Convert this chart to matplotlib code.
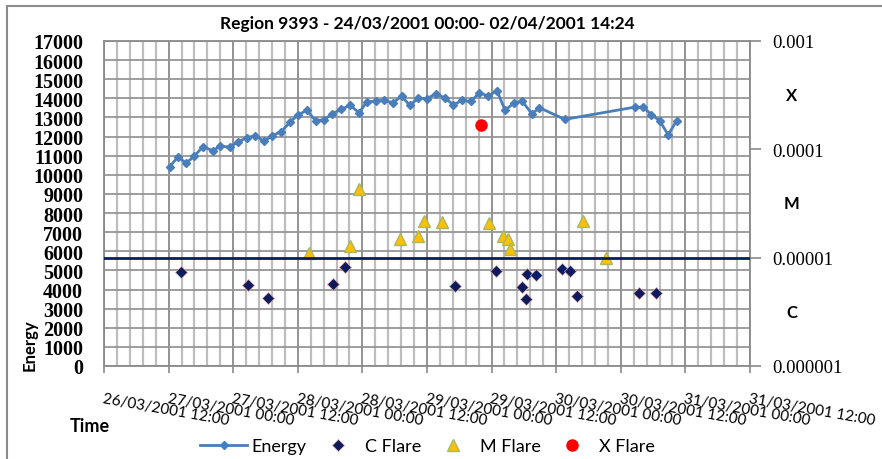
import numpy as np
import matplotlib
matplotlib.use("Agg")
import matplotlib.pyplot as plt
import matplotlib.ticker as mticker
import matplotlib.transforms as mtransforms

plt.rcParams['font.family'] = ['Lato', 'DejaVu Sans']

# hours after 26/03/2001 12:00
energy_hours = [12.2, 13.7, 15.3, 16.8, 18.4, 20.2, 21.6, 23.4, 24.9, 26.5,
                28.1, 29.7, 31.3, 32.9, 34.6, 36.0, 37.7, 39.3, 40.9, 42.4,
                44.0, 45.7, 47.4, 48.8, 50.5, 52.1, 53.7, 55.3, 56.8, 58.4,
                60.0, 61.6, 63.3, 64.9, 66.5, 68.2, 69.7, 71.4, 73.0, 74.5,
                76.2, 77.7, 79.5, 80.9, 85.6, 98.6, 100.2, 101.7, 103.2, 104.8,
                106.4]
energy = [10420, 10930, 10620, 10980, 11480, 11260, 11500, 11450, 11720, 11940,
          12050, 11760, 12050, 12260, 12760, 13130, 13370, 12840, 12880, 13190,
          13420, 13630, 13250, 13810, 13860, 13890, 13770, 14120, 13630, 14020,
          13980, 14240, 14030, 13660, 13890, 13840, 14290, 14120, 14410, 13370,
          13770, 13840, 13190, 13510, 12900, 13540, 13540, 13140, 12840, 12090,
          12840]

c_hours = [14.3, 26.8, 30.5, 42.5, 44.8, 65.2, 72.8, 77.6, 78.4, 78.5,
           80.3, 85.1, 86.6, 87.8, 99.3, 102.5]
c_energy = [4910, 4260, 3560, 4290, 5170, 4200, 4990, 4150, 3510, 4820,
            4780, 5080, 4960, 3680, 3820, 3820]

m_hours = [38.1, 45.7, 47.4, 55.0, 58.4, 59.4, 62.7, 71.6, 74.1, 75.0, 75.4, 89.0, 93.2]
m_energy = [5900, 6300, 9270, 6650, 6820, 7610, 7520, 7490, 6820, 6650, 6130, 7610, 5640]

x_hours = [70.0]
x_energy = [12620]

time_labels = ["26/03/2001 12:00", "27/03/2001 00:00", "27/03/2001 12:00",
               "28/03/2001 00:00", "28/03/2001 12:00", "29/03/2001 00:00",
               "29/03/2001 12:00", "30/03/2001 00:00", "30/03/2001 12:00",
               "31/03/2001 00:00", "31/03/2001 12:00"]

flux_ticks = [1e-6, 1e-5, 1e-4, 1e-3]
flux_labels = ["0.000001", "0.00001", "0.0001", "0.001"]
class_letters = ["C", "M", "X"]
class_floor = [1e-6, 1e-5, 1e-4]
cm_boundary = 1e-5

fig = plt.figure(figsize=(8.82, 4.60), dpi=100)
ax = fig.add_axes([0.1179, 0.2022, 0.7324, 0.7065])

ax.set_xlim(0, 120)
ax.set_ylim(0, 17000)
ax.set_xticks(np.arange(0, 121, 12))
ax.set_xticks(np.arange(0, 120.1, 2.4), minor=True)
ax.set_yticks(np.arange(0, 17001, 1000))
ax.grid(True, which='major', axis='x', color='#8a8a8a', lw=1.3)
ax.grid(True, which='minor', axis='x', color='#bebebe', lw=1.6)
ax.grid(True, which='major', axis='y', color='#969696', lw=1.3)
ax.set_axisbelow(True)
for s in ax.spines.values():
    s.set_color('#8a8a8a')
    s.set_linewidth(1.3)

ax.tick_params(axis='y', length=0, pad=15, labelsize=14.5)
for t in ax.get_yticklabels():
    t.set_fontfamily('Liberation Serif')
    t.set_fontweight('bold')
ax.tick_params(axis='x', which='major', length=5, color='#8a8a8a', width=1.2,
               pad=13, labelsize=11)
ax.tick_params(axis='x', which='minor', length=0)
ax.set_xticklabels(time_labels, rotation=-10, ha='left', rotation_mode='anchor')

ax.plot(energy_hours, energy, color='#4a7ebb', lw=2, marker='D', ms=4.5,
        label='Energy', zorder=3)
ax.plot(c_hours, c_energy, ls='none', marker='D', ms=6.5, mfc='#0d1a5c',
        mec='#e0a0a0', mew=0.5, label='C Flare', zorder=4)
ax.plot(m_hours, m_energy, ls='none', marker='^', ms=9, mfc='#ffc000',
        mec='#a8b860', mew=1, label='M Flare', zorder=4)
ax.plot(x_hours, x_energy, ls='none', marker='o', ms=8, mfc='#ff0000',
        mec='#ff0000', label='X Flare', zorder=4)

ax2 = ax.twinx()
ax2.set_yscale('log')
ax2.set_ylim(1e-6, 1e-3)
ax2.set_yticks(flux_ticks)
ax2.set_yticklabels(flux_labels)
ax2.yaxis.set_minor_locator(mticker.NullLocator())
ax2.tick_params(axis='y', length=8, color='#8a8a8a', width=1.2, pad=8, labelsize=13.5)
for t in ax2.get_yticklabels():
    t.set_fontfamily('Liberation Serif')
for s in ax2.spines.values():
    s.set_visible(False)
ax2.axhline(cm_boundary, color='#002060', lw=2, zorder=2)

trans = mtransforms.blended_transform_factory(ax2.transAxes, ax2.transData)
for letter, low in zip(class_letters, class_floor):
    ax2.text(1.065, np.sqrt(low * low * 10), letter, transform=trans,
             ha='center', va='center', fontsize=12, fontweight='bold')

fig.text(0.484, 0.948, "Region 9393 - 24/03/2001 00:00- 02/04/2001 14:24",
         ha='center', va='center', fontsize=12.5, fontweight='bold')
fig.text(0.034, 0.25, "Energy", rotation=90, ha='center', va='center',
         fontsize=12, fontweight='bold')
fig.text(0.079, 0.072, "Time", ha='left', va='center', fontsize=13, fontweight='bold')

ax.legend(loc='center', bbox_to_anchor=(0.485, 0.028), bbox_transform=fig.transFigure,
          ncol=4, frameon=False, fontsize=13, handlelength=2.6,
          handletextpad=0.2, columnspacing=0.45)

# outer chart frame
fig.add_artist(plt.Line2D([0.008, 0.008], [0, 0.985], color='#8c8c8c', lw=1.5,
                          transform=fig.transFigure))
fig.add_artist(plt.Line2D([0.008, 1], [0.985, 0.985], color='#8c8c8c', lw=1.5,
                          transform=fig.transFigure))

fig.savefig('out.png', dpi=100)
